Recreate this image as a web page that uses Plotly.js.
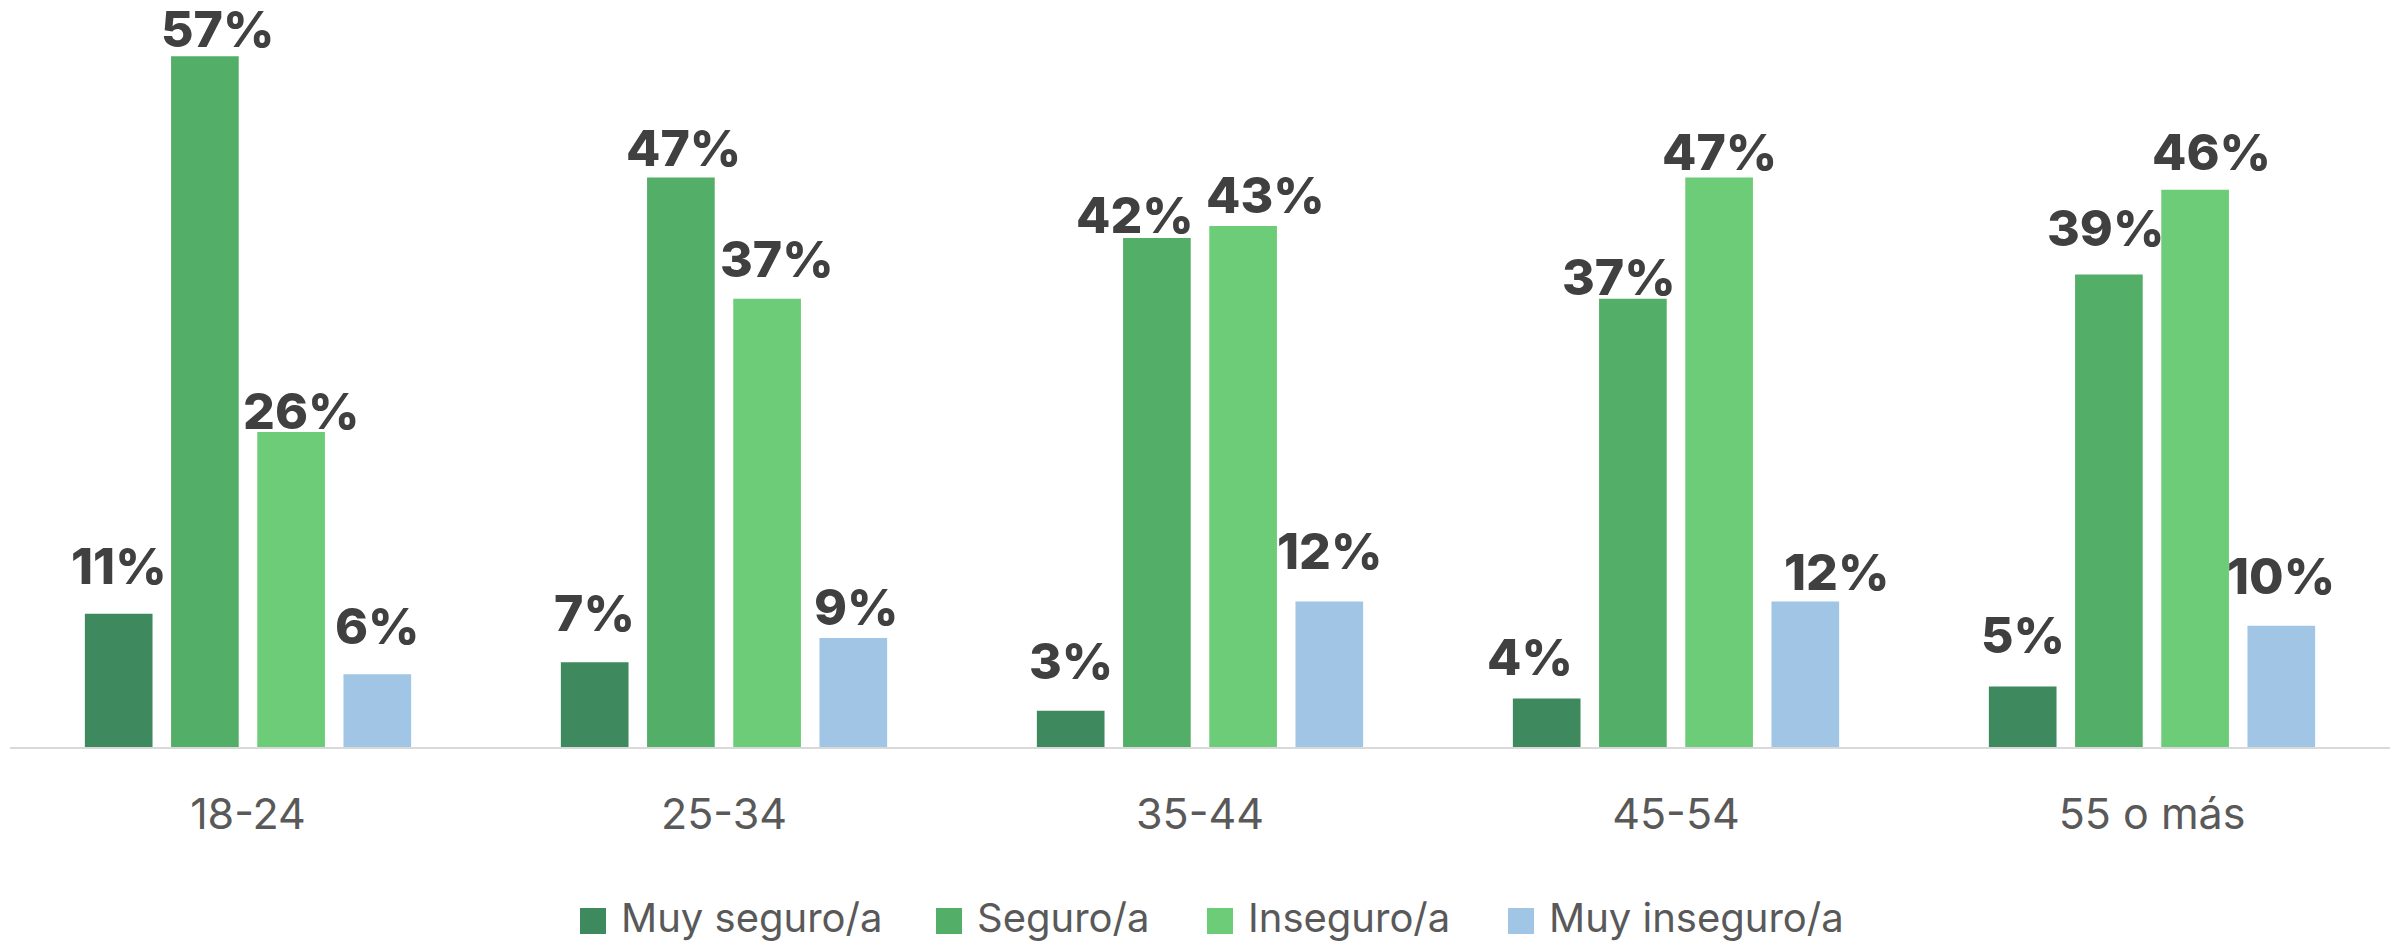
<!DOCTYPE html>
<html>
<head>
<meta charset="utf-8">
<script src="https://cdn.plot.ly/plotly-3.0.1.min.js"></script>
<style>
  html, body { margin: 0; padding: 0; background: #ffffff; }
  #chart { width: 2394px; height: 942px; }
</style>
</head>
<body>
<div id="chart"></div>
<script>
// ---- data ----
const categories = ["18-24", "25-34", "35-44", "45-54", "55 o más"];
const seriesNames = ["Muy seguro/a", "Seguro/a", "Inseguro/a", "Muy inseguro/a"];
const muySeguro   = [11, 7, 3, 4, 5];
const seguro      = [57, 47, 42, 37, 39];
const inseguro    = [26, 37, 43, 47, 46];
const muyInseguro = [6, 9, 12, 12, 10];
const seriesValues = [muySeguro, seguro, inseguro, muyInseguro];

// ---- style ----
const colors = ["#3E8A5E", "#53AE67", "#6DCC77", "#A1C5E5"];
const W = 2394, H = 942;
const M = { l: 10, r: 4, t: 20, b: 195 };
const plotW = W - M.l - M.r, plotH = H - M.t - M.b;
const px2x = px => (px - M.l) / plotW;
const px2y = py => (H - M.b - py) / plotH;
const BARGAP = 0.2756, BARGROUPGAP = 0.215;

const labelFont = { family: "Inter, 'Open Sans', sans-serif", size: 50, color: "#404040", weight: 800 };
const textFont  = { family: "Inter, 'Open Sans', sans-serif", size: 43, color: "#595959", weight: 400 };
const legendFont = { family: "Inter, 'Open Sans', sans-serif", size: 40, color: "#595959", weight: 400 };

// label placement nudges (pixels) as in the reference: [series][category]
const labelDx  = [[0, 0, 0, -17, 0], [13, 3, -22, -14, -3], [10, 10, 22, 0, 16], [0, 3, 0, 31, 0]];
const labelGap = [[30, 31, 31, 23, 33], [9, 11, 5, 4, 28], [3, 22, 13, 7, 19], [30, 13, 32, 11, 32]];

const traces = seriesNames.map((name, i) => ({
  type: "bar",
  name: name,
  x: categories,
  y: seriesValues[i],
  marker: { color: colors[i] },
  showlegend: false,
  hoverinfo: "skip"
}));

const annotations = [], shapes = [];

// data labels on top of the bars
const slot = (plotW / categories.length) * (1 - BARGAP) / seriesNames.length;
const capH = 0.727 * labelFont.size;
seriesNames.forEach((name, i) => {
  const off = (i - (seriesNames.length - 1) / 2) * slot;
  seriesValues[i].forEach((v, j) => {
    annotations.push({
      xref: "x", yref: "y",
      x: categories[j], y: v,
      xshift: off + labelDx[i][j],
      yshift: labelGap[i][j] + capH / 2,
      xanchor: "center", yanchor: "middle",
      text: v + "%", showarrow: false, font: labelFont
    });
  });
});

// legend (square swatches + text), built from series names and colours
const legendLeft = [580, 936, 1207, 1508];
const legendTop = 908, legendSize = 26, legendTextGap = 13, legendTextMid = 917.5;
seriesNames.forEach((name, i) => {
  shapes.push({
    type: "rect", xref: "paper", yref: "paper",
    x0: px2x(legendLeft[i]), x1: px2x(legendLeft[i] + legendSize),
    y0: px2y(legendTop + legendSize), y1: px2y(legendTop),
    fillcolor: colors[i], line: { width: 0 }
  });
  annotations.push({
    xref: "paper", yref: "paper",
    x: px2x(legendLeft[i] + legendSize + legendTextGap),
    y: px2y(legendTextMid),
    xanchor: "left", yanchor: "middle",
    text: name, showarrow: false, font: legendFont
  });
});

const layout = {
  width: W, height: H,
  margin: M,
  paper_bgcolor: "#ffffff",
  plot_bgcolor: "#ffffff",
  barmode: "group",
  bargap: BARGAP,
  bargroupgap: BARGROUPGAP,
  showlegend: false,
  xaxis: {
    type: "category",
    showline: true, linecolor: "#D9D9D9", linewidth: 2,
    showgrid: false, zeroline: false, ticks: "",
    tickfont: textFont,
    ticklabelstandoff: 28,
    fixedrange: true
  },
  yaxis: {
    range: [0, 60],
    visible: false,
    showgrid: false, zeroline: false,
    fixedrange: true
  },
  shapes: shapes,
  annotations: annotations
};

Plotly.newPlot("chart", traces, layout, { displayModeBar: false, staticPlot: true });
</script>
</body>
</html>
